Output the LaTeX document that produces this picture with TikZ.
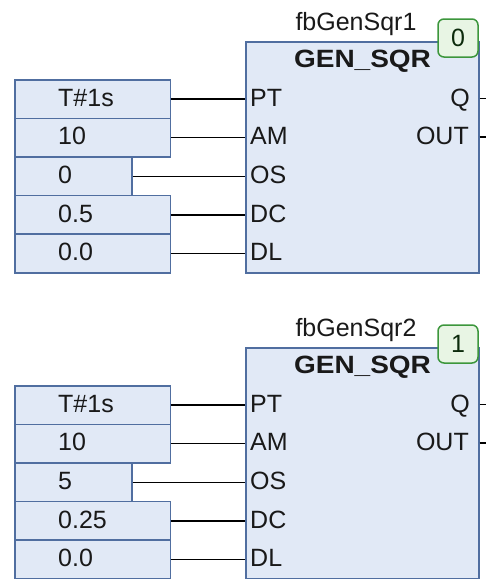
\documentclass[tikz,border=0pt]{standalone}
\usepackage{fontspec}
\setmainfont{Liberation Sans}
\definecolor{boxfill}{RGB}{225,233,246}
\definecolor{boxline}{RGB}{80,110,160}
\definecolor{badgefill}{RGB}{232,245,228}
\definecolor{badgeline}{RGB}{60,150,60}
\definecolor{txt}{RGB}{25,25,25}
\begin{document}
\begin{tikzpicture}[x=1pt,y=-1pt,
  fbox/.style={draw=boxline, fill=boxfill, line width=1.5pt, inner sep=0pt, anchor=north west},
  wire/.style={draw=black, line width=1.5pt},
  lbl/.style={font=\fontsize{25}{25}\selectfont, text=txt, inner sep=0pt},
  badge/.style={draw=badgeline, fill=badgefill, line width=1.5pt, rounded corners=6pt,
    minimum width=40pt, minimum height=38pt, inner sep=0pt, text=txt!80!green!60!black,
    font=\fontsize{25}{25}\selectfont}]
\useasboundingbox (0,0) rectangle (486,579);
\foreach \b/\off/\name/\num/\os/\dc in {1/0/fbGenSqr1/0/0/0.5, 2/306/fbGenSqr2/1/5/0.25}{
  \begin{scope}[shift={(0,\off)}]
    \node[fbox, minimum width=233pt, minimum height=231pt] (b\b blk) at (245,41) {};
    \node[lbl, anchor=base] (b\b title) at (356,30) {\name};
    \node[lbl, anchor=base, font=\fontsize{25}{25}\selectfont\bfseries] (b\b type) at (362.5,67) {\scalebox{1.12}[1]{GEN\_SQR}};
    \node[badge] (b\b badge) at (458,38) {\num};
    \foreach \i/\pin/\val/\w in {1/PT/T\#1s/155.5, 2/AM/10/155.5, 3/OS/\os/117, 4/DC/\dc/155.5, 5/DL/0.0/155.5}{
      \pgfmathsetmacro{\ytop}{79+38.6*(\i-1)}
      \pgfmathsetmacro{\ybase}{\ytop+19.3+8}
      \node[fbox, minimum width=\w pt, minimum height=38.6pt] (b\b i\i) at (14,\ytop) {};
      \node[lbl, anchor=base west] (b\b v\i) at (58,\ybase) {\val};
      \node[lbl, anchor=base west] (b\b p\i) at (250,\ybase) {\pin};
      \draw[wire] (b\b i\i.east) -- (b\b i\i.east -| b\b blk.west);
    }
    \node[lbl, anchor=base east] (b\b q) at (470,106.3) {Q};
    \node[lbl, anchor=base east] (b\b out) at (469,144.9) {OUT};
    \coordinate (b\b qend) at (486,98.3);
    \coordinate (b\b oend) at (486,136.9);
    \draw[wire] (b\b qend -| b\b blk.east) -- (b\b qend);
    \draw[wire] (b\b oend -| b\b blk.east) -- (b\b oend);
  \end{scope}
}
\end{tikzpicture}
\end{document}
